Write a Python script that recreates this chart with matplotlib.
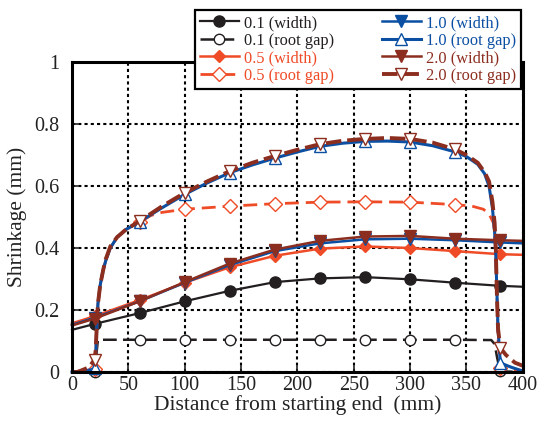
import numpy as np
import matplotlib
matplotlib.use("Agg")
import matplotlib.pyplot as plt

plt.rcParams['font.family'] = ['Liberation Serif', 'DejaVu Serif']
plt.rcParams['mathtext.fontset'] = 'stix'

mark_x = [20, 60, 100, 140, 180, 220, 260, 300, 340, 380]

# width series, sampled at the same x
x_w = [0, 20, 60, 100, 140, 180, 220, 260, 300, 340, 380, 400]
w01 = [0.136, 0.155, 0.19, 0.228, 0.262, 0.29, 0.302, 0.306, 0.299, 0.288, 0.278, 0.275]
w05 = [0.157, 0.18, 0.232, 0.288, 0.338, 0.375, 0.398, 0.405, 0.40, 0.39, 0.38, 0.378]
w10 = [0.152, 0.175, 0.228, 0.288, 0.345, 0.39, 0.415, 0.428, 0.43, 0.425, 0.418, 0.415]
w20 = [0.15, 0.172, 0.228, 0.29, 0.35, 0.395, 0.423, 0.437, 0.439, 0.43, 0.425, 0.423]

# root gap series
x_g01 = [0, 20, 23, 60, 100, 140, 180, 220, 260, 300, 340, 372, 375, 377, 379, 380, 400]
g01 = [0, 0, 0.104, 0.104, 0.104, 0.104, 0.104, 0.104, 0.104, 0.104, 0.104, 0.103, 0.09,
       0.05, 0.015, 0.002, 0]

x_g05 = [0, 20, 21, 22, 23, 25, 27.7, 30, 34, 40, 48, 60, 70, 80, 100, 120, 140, 180, 220,
         260, 300, 340, 355, 365, 370, 374, 376, 377, 378, 380, 390, 400]
g05 = [0, 0.01, 0.05, 0.14, 0.22, 0.28, 0.33, 0.36, 0.40, 0.435, 0.46, 0.483, 0.505, 0.515,
       0.525, 0.53, 0.535, 0.543, 0.548, 0.549, 0.548, 0.54, 0.535, 0.525, 0.51, 0.48, 0.4,
       0.25, 0.1, 0.014, 0.008, 0.005]

x_g10 = [0, 10, 18, 20, 21, 22, 23, 25, 27.7, 30, 34, 40, 48, 60, 80, 100, 120, 140, 160,
         180, 200, 220, 240, 260, 280, 300, 320, 340, 350, 360, 366, 370, 373, 375, 376, 377,
         378, 380, 385, 390, 400]
g10 = [0, 0.003, 0.008, 0.012, 0.05, 0.15, 0.22, 0.28, 0.33, 0.36, 0.40, 0.435, 0.46, 0.485,
       0.53, 0.573, 0.61, 0.643, 0.668, 0.69, 0.71, 0.728, 0.738, 0.744, 0.745, 0.742, 0.73,
       0.71, 0.695, 0.67, 0.64, 0.6, 0.53, 0.45, 0.38, 0.26, 0.14, 0.03, 0.022, 0.015, 0.003]

x_g20 = [0, 5, 15, 20, 21, 22, 23, 25, 27.7, 30, 34, 40, 48, 60, 80, 100, 120, 140, 160, 180,
         200, 220, 240, 260, 280, 300, 320, 340, 350, 360, 366, 370, 373, 375, 376, 377, 378,
         380, 385, 393, 400]
g20 = [0, 0, 0.015, 0.04, 0.07, 0.15, 0.22, 0.28, 0.33, 0.365, 0.405, 0.435, 0.46, 0.487,
       0.535, 0.578, 0.615, 0.648, 0.675, 0.697, 0.717, 0.735, 0.746, 0.752, 0.755, 0.752,
       0.74, 0.718, 0.70, 0.675, 0.645, 0.615, 0.55, 0.48, 0.4, 0.25, 0.14, 0.078, 0.055,
       0.03, 0.02]

c_black = '#231f20'
c_orange = '#ef4b26'
c_blue = '#0b4fa3'
c_red = '#8c2e1f'


def marks(xs):
    return [xs.index(m) for m in mark_x]


fig = plt.figure(figsize=(5.39, 4.22), dpi=100)
ax = fig.add_axes([0.1336, 0.1185, 0.970 - 0.1336, 0.853 - 0.1185])

ax.plot(x_w, w01, '-', color=c_black, lw=1.6, marker='o', ms=8, markevery=marks(x_w),
        label='0.1 (width)', clip_on=False)
ax.plot(x_g01, g01, color=c_black, lw=1.8, dashes=(5.5, 2.5), marker='o', ms=7.5,
        mfc='white', mec=c_black, mew=1.0, markevery=marks(x_g01),
        label='0.1 (root gap)', clip_on=False)
ax.plot(x_w, w05, '-', color=c_orange, lw=1.8, marker='D', ms=6.5, markevery=marks(x_w),
        label='0.5 (width)', clip_on=False)
ax.plot(x_g05, g05, color=c_orange, lw=2.0, dashes=(5, 2.5), marker='D', ms=7,
        mfc='white', mec=c_orange, mew=1.0, markevery=marks(x_g05),
        label='0.5 (root gap)', clip_on=False)
ax.plot(x_w, w10, '-', color=c_blue, lw=1.8, marker='v', ms=8.5, markevery=marks(x_w),
        label='1.0 (width)', clip_on=False)
ax.plot(x_g10, g10, '-', color=c_blue, lw=2.2, marker='^', ms=8.5,
        mfc='white', mec=c_blue, mew=1.0, markevery=marks(x_g10),
        label='1.0 (root gap)', clip_on=False)
ax.plot(x_w, w20, '-', color=c_red, lw=1.8, marker='v', ms=8.5, markevery=marks(x_w),
        label='2.0 (width)', clip_on=False)
ax.plot(x_g20, g20, color=c_red, lw=2.8, dashes=(4, 1.5), marker='v', ms=8.5,
        mfc='white', mec=c_red, mew=1.0, markevery=marks(x_g20),
        label='2.0 (root gap)', clip_on=False)

ax.set_xlim(0, 400)
ax.set_ylim(0, 1)
ax.set_xticks(np.arange(0, 401, 50))
ax.set_yticks([0, 0.2, 0.4, 0.6, 0.8, 1.0])
ax.set_yticklabels(['0', '0.2', '0.4', '0.6', '0.8', '1'])
ax.grid(True, color='black', lw=1.5, linestyle=(0, (1.5, 1.5)))
ax.set_axisbelow(True)
for s in ax.spines.values():
    s.set_linewidth(2.2)
ax.tick_params(direction='in', length=4, width=1.2, labelsize=14.5, colors='#222222')
ax.tick_params(axis='y', pad=9)
ax.tick_params(axis='x', pad=3)

ax.set_xlabel('Distance from starting end  (mm)', fontsize=15.5, labelpad=0, color='#222222')
ax.set_ylabel('Shrinkage (mm)', fontsize=15.5, labelpad=5, color='#222222')

leg = fig.legend(loc='upper right', bbox_to_anchor=(521 / 539, 1 - 10 / 422), ncol=2,
                 fontsize=11.8, frameon=True, fancybox=False, framealpha=1,
                 edgecolor='black', handlelength=2.4, handletextpad=0.3,
                 labelspacing=0.1, columnspacing=2.9, borderpad=0.3, borderaxespad=0)
leg.get_frame().set_linewidth(1.6)
for txt, line in zip(leg.get_texts(), leg.get_lines()):
    txt.set_color(line.get_color())

fig.savefig('out.png', dpi=100)
